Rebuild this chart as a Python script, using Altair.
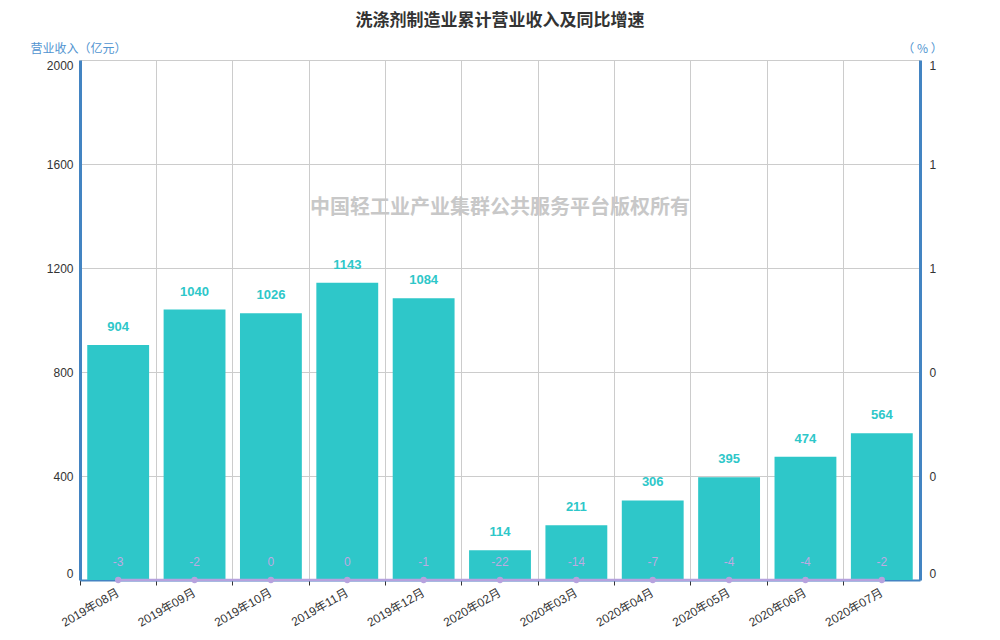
import altair as alt
import pandas as pd

months = ["2019年08月", "2019年09月", "2019年10月", "2019年11月", "2019年12月",
          "2020年02月", "2020年03月", "2020年04月", "2020年05月", "2020年06月", "2020年07月"]
revenue = [904, 1040, 1026, 1143, 1084, 114, 211, 306, 395, 474, 564]
growth = [-3, -2, 0, 0, -1, -22, -14, -7, -4, -4, -2]
left_ticks = [0, 400, 800, 1200, 1600, 2000]
right_ticks = [0, 0.2, 0.4, 0.6, 0.8, 1]

title_text = "洗涤剂制造业累计营业收入及同比增速"
watermark = "中国轻工业产业集群公共服务平台版权所有"

df = pd.DataFrame({"month": months, "revenue": revenue, "growth": growth})

FONT = "Liberation Sans, Noto Sans CJK SC, sans-serif"
CJK = "Noto Sans CJK SC"
TEAL = "#2EC7C9"
PURPLE = "#B6A2DE"
BLUE = "#4384C2"
TITLE_BLUE = "#5194D0"

xscale = alt.Scale(paddingInner=0, paddingOuter=0)

x_grid = alt.X("month:N", sort=months, scale=xscale,
               axis=alt.Axis(orient="bottom", title=None, labels=False, grid=True,
                             gridColor="#cccccc", ticks=True, tickColor="#333333",
                             tickSize=5, bandPosition=0, domainColor=BLUE, domainWidth=2,
                             zindex=0))
x_lab = alt.X("month:N", sort=months, scale=xscale,
              axis=alt.Axis(orient="bottom", title=None, labelAngle=-30, labelAlign="right",
                            labelBaseline="middle", ticks=False, grid=False, domain=False,
                            labelColor="#333333", labelFontSize=12, labelPadding=11,
                            labelFont=FONT, zindex=0))

y_left = alt.Y("revenue:Q",
               scale=alt.Scale(domain=[0, 2000], nice=False),
               axis=alt.Axis(title="营业收入（亿元）", titleAngle=0, titleX=-2, titleY=-12,
                             titleAlign="center", titleBaseline="middle",
                             titleColor=TITLE_BLUE, titleFontWeight="normal",
                             titleFontSize=12, titleFont=CJK, format="d",
                             values=left_ticks, labelFlush=True, grid=True,
                             gridColor="#cccccc", ticks=False, domainColor=BLUE,
                             domainWidth=3, labelColor="#333333", labelPadding=7,
                             labelFontSize=12, labelFont=FONT, zindex=0))

y_right = alt.Y("growth:Q",
                scale=alt.Scale(domain=[0, 1], nice=False, clamp=True),
                axis=alt.Axis(orient="right", title="（ % ）", titleAngle=0, titleX=2,
                              titleY=-12, titleAlign="center", titleBaseline="middle",
                              titleColor=TITLE_BLUE, titleFontWeight="normal",
                              titleFontSize=12, titleFont=CJK,
                              values=right_ticks, format=".0f", labelFlush=True,
                              grid=False, ticks=False, domainColor=BLUE, domainWidth=3,
                              labelColor="#333333", labelPadding=9, labelFontSize=12,
                              labelFont=FONT, zindex=0))

base = alt.Chart(df)

bars = base.mark_bar(color=TEAL, width=alt.RelativeBandSize(0.81)).encode(
    x=x_grid, y=y_left)
bar_text = base.mark_text(color=TEAL, fontWeight="bold", fontSize=13, font=FONT,
                          baseline="bottom", dy=-11).encode(
    x=x_grid, y=y_left, text=alt.Text("revenue:Q"))
left = alt.layer(bars, bar_text)

line = base.mark_line(color=PURPLE, strokeWidth=2.5).encode(x=x_lab, y=y_right)
pts = base.mark_point(color=PURPLE, filled=True, opacity=1, size=40).encode(
    x=x_lab, y=y_right)
line_text = base.transform_calculate(g_label="toString(datum.growth)").mark_text(
    color="#BFAAE2", fontSize=12, font=FONT, baseline="middle", dy=-18).encode(
    x=x_lab, y=y_right, text=alt.Text("g_label:N"))
right = alt.layer(line, pts, line_text)

wm = alt.Chart(pd.DataFrame({"t": [watermark]})).mark_text(
    color="#c8c8c8", fontSize=20, fontWeight="bold", font=CJK,
    align="center", baseline="middle").encode(
    x=alt.value(420), y=alt.value(148), text="t:N")

chart = alt.layer(left, right, wm).resolve_scale(y="independent").resolve_axis(
    x="independent", y="independent").properties(
    width=840, height=520,
    title=alt.TitleParams(title_text, fontSize=17, fontWeight="bold", color="#333333",
                          font=CJK, offset=12),
    autosize=alt.AutoSizeParams(type="none"),
    padding={"left": 72, "top": 52, "right": 72, "bottom": 52},
).configure_view(stroke=None)

chart.save("out.html", embed_options={"renderer": "svg", "actions": False})
